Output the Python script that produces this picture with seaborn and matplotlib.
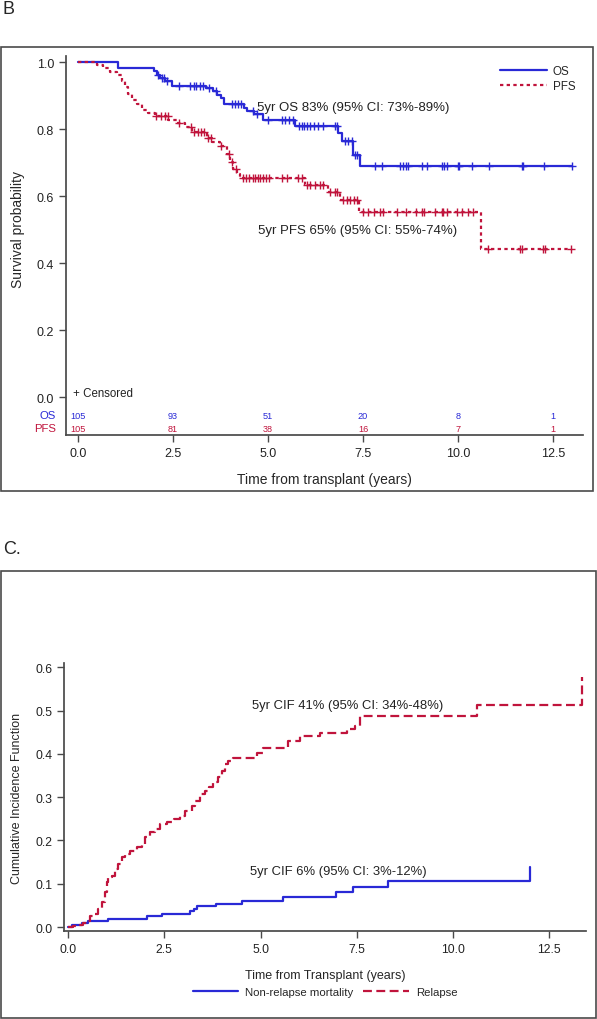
import numpy as np
import pandas as pd
import matplotlib
matplotlib.use("Agg")
import matplotlib.pyplot as plt
import seaborn as sns
from matplotlib.patches import Rectangle

# ---- panel B: Kaplan-Meier (OS / PFS) ----
os_time = [0, 1.04, 2.0, 2.07, 2.15, 2.3, 2.47, 3.38, 3.55, 3.67, 3.76, 3.85,
           4.37, 4.46, 4.64, 4.86, 5.71, 6.84, 6.94, 7.24, 7.42, 13.0]
os_surv = [1.0, 0.981, 0.972, 0.962, 0.953, 0.943, 0.929, 0.922, 0.913, 0.903,
           0.894, 0.874, 0.864, 0.854, 0.844, 0.828, 0.808, 0.787, 0.765, 0.722,
           0.690, 0.690]
os_cens = [2.1, 2.2, 2.25, 2.35, 2.65, 2.95, 3.05, 3.1, 3.2, 3.3, 3.45, 3.62,
           4.05, 4.12, 4.2, 4.3, 4.6, 4.7, 5.0, 5.36, 5.45, 5.56, 5.67, 5.82,
           5.89, 5.95, 6.03, 6.1, 6.21, 6.32, 6.44, 6.76, 6.82, 7.03, 7.11, 7.2,
           7.29, 7.35, 7.82, 7.99, 8.47, 8.54, 8.63, 8.69, 9.04, 9.18, 9.57,
           9.63, 9.7, 10.0, 10.03, 10.36, 10.82, 11.68, 11.72, 12.27, 12.99]

pfs_time = [0, 0.49, 0.66, 0.84, 1.02, 1.15, 1.24, 1.32, 1.41, 1.54, 1.68,
            1.85, 2.03, 2.38, 2.6, 2.82, 2.99, 3.39, 3.52, 3.74, 3.91, 4.0,
            4.09, 4.18, 4.26, 5.97, 6.59, 6.89, 7.40, 10.6, 12.97]
pfs_surv = [1.0, 0.990, 0.981, 0.971, 0.962, 0.943, 0.924, 0.905, 0.886, 0.876,
            0.857, 0.848, 0.838, 0.828, 0.818, 0.806, 0.792, 0.772, 0.761, 0.750,
            0.726, 0.703, 0.681, 0.666, 0.653, 0.633, 0.611, 0.589, 0.553, 0.442,
            0.442]
pfs_cens = [2.05, 2.18, 2.29, 2.36, 2.67, 2.97, 3.06, 3.15, 3.24, 3.32, 3.41,
            3.50, 3.76, 3.98, 4.04, 4.16, 4.33, 4.42, 4.51, 4.6, 4.66, 4.73,
            4.79, 4.86, 4.95, 5.03, 5.36, 5.49, 5.8, 5.89, 6.03, 6.1, 6.24, 6.37,
            6.44, 6.63, 6.76, 6.82, 6.97, 7.07, 7.16, 7.26, 7.33, 7.5, 7.62, 7.8,
            7.95, 8.03, 8.4, 8.62, 8.9, 9.04, 9.1, 9.39, 9.57, 9.61, 9.7, 9.97,
            10.1, 10.27, 10.4, 10.8, 11.63, 11.68, 12.25, 12.29, 12.97]

risk_times = [0, 2.5, 5.0, 7.5, 10.0, 12.5]
os_at_risk = [105, 93, 51, 20, 8, 1]
pfs_at_risk = [105, 81, 38, 16, 7, 1]

# ---- panel C: cumulative incidence ----
nrm_time = [0, 0.1, 0.36, 0.53, 1.05, 2.04, 2.43, 3.17, 3.26, 3.34, 3.84,
            4.53, 5.58, 6.95, 7.41, 8.3, 12.0, 12.0]
nrm_cif = [0, 0.005, 0.009, 0.014, 0.019, 0.025, 0.030, 0.036, 0.042, 0.048,
           0.054, 0.061, 0.070, 0.080, 0.093, 0.107, 0.107, 0.138]

rel_time = [0, 0.14, 0.27, 0.40, 0.49, 0.57, 0.66, 0.79, 0.87, 0.96, 1.00,
            1.05, 1.13, 1.22, 1.31, 1.39, 1.48, 1.61, 1.78, 1.91, 2.00, 2.13,
            2.26, 2.39, 2.56, 2.74, 2.91, 3.04, 3.21, 3.30, 3.43, 3.55, 3.66,
            3.77, 3.90, 3.99, 4.08, 4.16, 4.29, 4.90, 5.07, 5.72, 6.03, 6.55,
            7.24, 7.45, 7.58, 10.62, 13.34, 13.34]
rel_cif = [0, 0.003, 0.005, 0.009, 0.015, 0.025, 0.030, 0.042, 0.057, 0.080,
           0.103, 0.115, 0.118, 0.134, 0.145, 0.161, 0.169, 0.176, 0.184, 0.192,
           0.207, 0.219, 0.226, 0.238, 0.242, 0.249, 0.257, 0.269, 0.280, 0.292,
           0.307, 0.315, 0.324, 0.334, 0.346, 0.361, 0.376, 0.384, 0.390, 0.403,
           0.413, 0.430, 0.440, 0.448, 0.457, 0.465, 0.487, 0.513, 0.513, 0.577]

BLUE = "#2929d6"
RED = "#c0143c"
GREY = "#4a4a4a"

sns.set_theme(style="ticks")
plt.rcParams["font.family"] = ["Liberation Sans", "DejaVu Sans"]
plt.rcParams["axes.edgecolor"] = GREY
plt.rcParams["xtick.color"] = GREY
plt.rcParams["ytick.color"] = GREY
plt.rcParams["xtick.labelcolor"] = "#222222"
plt.rcParams["ytick.labelcolor"] = "#222222"


def step_at(times, vals, t):
    idx = np.searchsorted(times, t, side="right") - 1
    return np.asarray(vals)[idx]


def px(x, y, W=597, H=1020):
    return x / W, 1 - y / H


fig = plt.figure(figsize=(5.97, 10.2), dpi=100)

# ---------------- panel B ----------------
l, b = px(66, 436)
r, t = px(583, 58)
ax1 = fig.add_axes([l, b, r - l, t - b])

os_df = pd.DataFrame({"time": os_time, "surv": os_surv})
pfs_df = pd.DataFrame({"time": pfs_time, "surv": pfs_surv})
sns.lineplot(data=os_df, x="time", y="surv", ax=ax1, color=BLUE, lw=1.6,
             drawstyle="steps-post", estimator=None, sort=False, label="OS")
sns.lineplot(data=pfs_df, x="time", y="surv", ax=ax1, color=RED, lw=1.6,
             drawstyle="steps-post", estimator=None, sort=False,
             linestyle=(0, (1.5, 1.5)), label="PFS")

os_c = pd.DataFrame({"time": os_cens,
                     "surv": step_at(os_time, os_surv, os_cens)})
pfs_c = pd.DataFrame({"time": pfs_cens,
                      "surv": step_at(pfs_time, pfs_surv, pfs_cens)})
sns.scatterplot(data=os_c, x="time", y="surv", ax=ax1, marker="+", s=30,
                color=BLUE, linewidth=1.0, legend=False)
sns.scatterplot(data=pfs_c, x="time", y="surv", ax=ax1, marker="+", s=30,
                color=RED, linewidth=1.0, legend=False)

ax1.set_xlim(-0.316, 13.29)
ax1.set_ylim(-0.1134, 1.015)
ax1.set_xticks(risk_times)
ax1.set_xticklabels([f"{v:.1f}" for v in risk_times])
ax1.set_yticks([0, 0.2, 0.4, 0.6, 0.8, 1.0])
ax1.set_yticklabels([f"{v:.1f}" for v in [0, 0.2, 0.4, 0.6, 0.8, 1.0]])
ax1.tick_params(labelsize=9, length=5, width=1)
sns.despine(ax=ax1)
ax1.spines["left"].set_bounds(-0.1134, 1.018)
ax1.set_xlabel("Time from transplant (years)", fontsize=10)
ax1.set_ylabel("Survival probability", fontsize=10)
ax1.xaxis.set_label_coords(0.5, -0.098)
ax1.yaxis.set_label_coords(-0.08, 0.545)

ax1.text(4.71, 0.866, "5yr OS 83% (95% CI: 73%-89%)", fontsize=9.5,
         va="center", ha="left", color="#222222")
ax1.text(4.73, 0.50, "5yr PFS 65% (95% CI: 55%-74%)", fontsize=9.5,
         va="center", ha="left", color="#222222")
ax1.text(-0.13, 0.012, "+ Censored", fontsize=8.3, va="center", ha="left",
         color="#222222")

for tt, n in zip(risk_times, os_at_risk):
    ax1.text(tt, -0.054, str(n), fontsize=6.6, color=BLUE, ha="center",
             va="center")
for tt, n in zip(risk_times, pfs_at_risk):
    ax1.text(tt, -0.093, str(n), fontsize=6.6, color=RED, ha="center",
             va="center")
ax1.text(-0.019, -0.054, "OS", fontsize=8.2, color=BLUE, ha="right",
         va="center", transform=ax1.get_yaxis_transform())
ax1.text(-0.019, -0.093, "PFS", fontsize=8.2, color=RED, ha="right",
         va="center", transform=ax1.get_yaxis_transform())

ax1.legend(loc="upper right", bbox_to_anchor=px(580, 61), frameon=False,
           bbox_transform=fig.transFigure, fontsize=8.4, handlelength=4.0,
           handletextpad=0.5, labelspacing=0.3, borderaxespad=0)

# ---------------- panel C ----------------
l, b = px(64, 932)
r, t = px(586, 664)
ax2 = fig.add_axes([l, b, r - l, t - b])

nrm_df = pd.DataFrame({"time": nrm_time, "cif": nrm_cif})
rel_df = pd.DataFrame({"time": rel_time, "cif": rel_cif})
sns.lineplot(data=nrm_df, x="time", y="cif", ax=ax2, color=BLUE, lw=1.6,
             drawstyle="steps-post", estimator=None, sort=False,
             label="Non-relapse mortality")
sns.lineplot(data=rel_df, x="time", y="cif", ax=ax2, color=RED, lw=1.6,
             drawstyle="steps-post", estimator=None, sort=False,
             linestyle=(0, (4, 2)), label="Relapse")

ax2.set_xlim(-0.104, 13.45)
ax2.set_ylim(-0.0092, 0.6097)
ax2.set_xticks(risk_times)
ax2.set_xticklabels([f"{v:.1f}" for v in risk_times])
cif_ticks = [0, 0.1, 0.2, 0.3, 0.4, 0.5, 0.6]
ax2.set_yticks(cif_ticks)
ax2.set_yticklabels([f"{v:.1f}" for v in cif_ticks])
ax2.tick_params(labelsize=8.8, length=5, width=1)
sns.despine(ax=ax2)
ax2.set_xlabel("Time from Transplant (years)", fontsize=9)
ax2.set_ylabel("Cumulative Incidence Function", fontsize=9)
ax2.xaxis.set_label_coords(0.5, -0.142)
ax2.yaxis.set_label_coords(-0.078, 0.5)

ax2.text(4.77, 0.513, "5yr CIF 41% (95% CI: 34%-48%)", fontsize=9.4,
         va="center", ha="left", color="#222222")
ax2.text(4.73, 0.129, "5yr CIF 6% (95% CI: 3%-12%)", fontsize=9.4,
         va="center", ha="left", color="#222222")

ax2.legend(loc="center", bbox_to_anchor=(0.5, -0.228), ncol=2, frameon=False,
           fontsize=8.2, handlelength=4.0, handletextpad=0.6,
           columnspacing=0.9)

# ---------------- frames and panel letters ----------------
for (x0, y0, x1, y1) in [(1, 48, 593, 492), (1, 572, 596, 1019)]:
    fx, fy = px(x0, y1)
    fig.add_artist(Rectangle((fx, fy), (x1 - x0) / 597, (y1 - y0) / 1020,
                             transform=fig.transFigure, fill=False,
                             ec=GREY, lw=1.2))

fig.text(*px(2, 10), "B", fontsize=13, ha="left", va="center")
fig.text(*px(3, 550), "C.", fontsize=13, ha="left", va="center")

fig.savefig("out.png", dpi=100)
